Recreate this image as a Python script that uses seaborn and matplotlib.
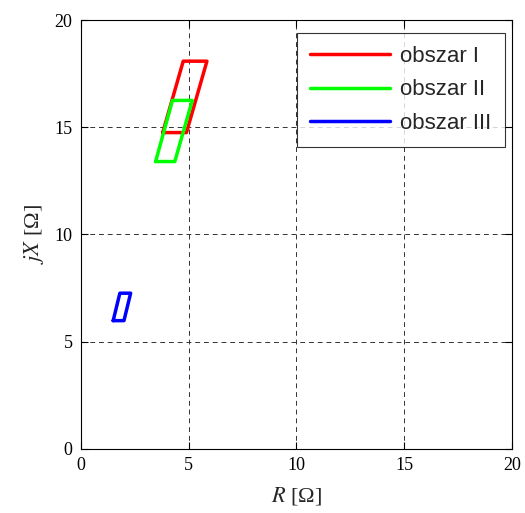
import matplotlib
matplotlib.use("Agg")
import matplotlib.pyplot as plt
import seaborn as sns
import pandas as pd

labels = ["obszar I", "obszar II", "obszar III"]
colors = ["#ff0000", "#00ff00", "#0000ff"]

r1 = [3.80, 4.90, 5.85, 4.75, 3.80]
x1 = [14.75, 14.75, 18.08, 18.08, 14.75]
r2 = [3.47, 4.36, 5.17, 4.25, 3.47]
x2 = [13.40, 13.40, 16.25, 16.25, 13.40]
r3 = [1.50, 2.00, 2.31, 1.81, 1.50]
x3 = [5.98, 5.98, 7.26, 7.26, 5.98]

xticks = [0, 5, 10, 15, 20]
yticks = [0, 5, 10, 15, 20]

sns.set_style("white")
plt.rcParams["mathtext.fontset"] = "stix"
serif = "Liberation Serif"

fig = plt.figure(figsize=(5.25, 5.13), dpi=100)
ax = fig.add_axes([0.154, 0.125, 0.821, 0.836])

for r, x, lab, c in zip([r1, r2, r3], [x1, x2, x3], labels, colors):
    df = pd.DataFrame({"R": r, "X": x})
    sns.lineplot(data=df, x="R", y="X", sort=False, estimator=None,
                 color=c, linewidth=2.5, label=lab, ax=ax)

ax.set_xlim(0, 20)
ax.set_ylim(0, 20)
ax.set_xticks(xticks)
ax.set_yticks(yticks)
ax.set_xticklabels([str(t) for t in xticks], fontfamily=serif, fontsize=13)
ax.set_yticklabels([str(t) for t in yticks], fontfamily=serif, fontsize=13)
ax.tick_params(direction="in", length=5, width=0.8, top=True, right=True,
               bottom=True, left=True, colors="black", pad=6)
ax.grid(True, color="#333333", linestyle=(0, (5, 4)), linewidth=0.7)
for s in ax.spines.values():
    s.set_color("black")
    s.set_linewidth(0.8)

ax.set_xlabel(r"$R$ [Ω]", fontsize=16, fontfamily=serif, labelpad=8)
ax.set_ylabel(r"$jX$ [Ω]", fontsize=16, fontfamily=serif, labelpad=6)

leg = ax.legend(loc="upper right", bbox_to_anchor=(0.984, 0.970), borderaxespad=0,
                prop={"family": "Liberation Sans", "size": 16},
                frameon=True, fancybox=False, edgecolor="black",
                handlelength=3.6, borderpad=0.6, labelspacing=0.55, handletextpad=0.45)
leg.get_frame().set_linewidth(0.8)

fig.savefig("out.png", dpi=100)
